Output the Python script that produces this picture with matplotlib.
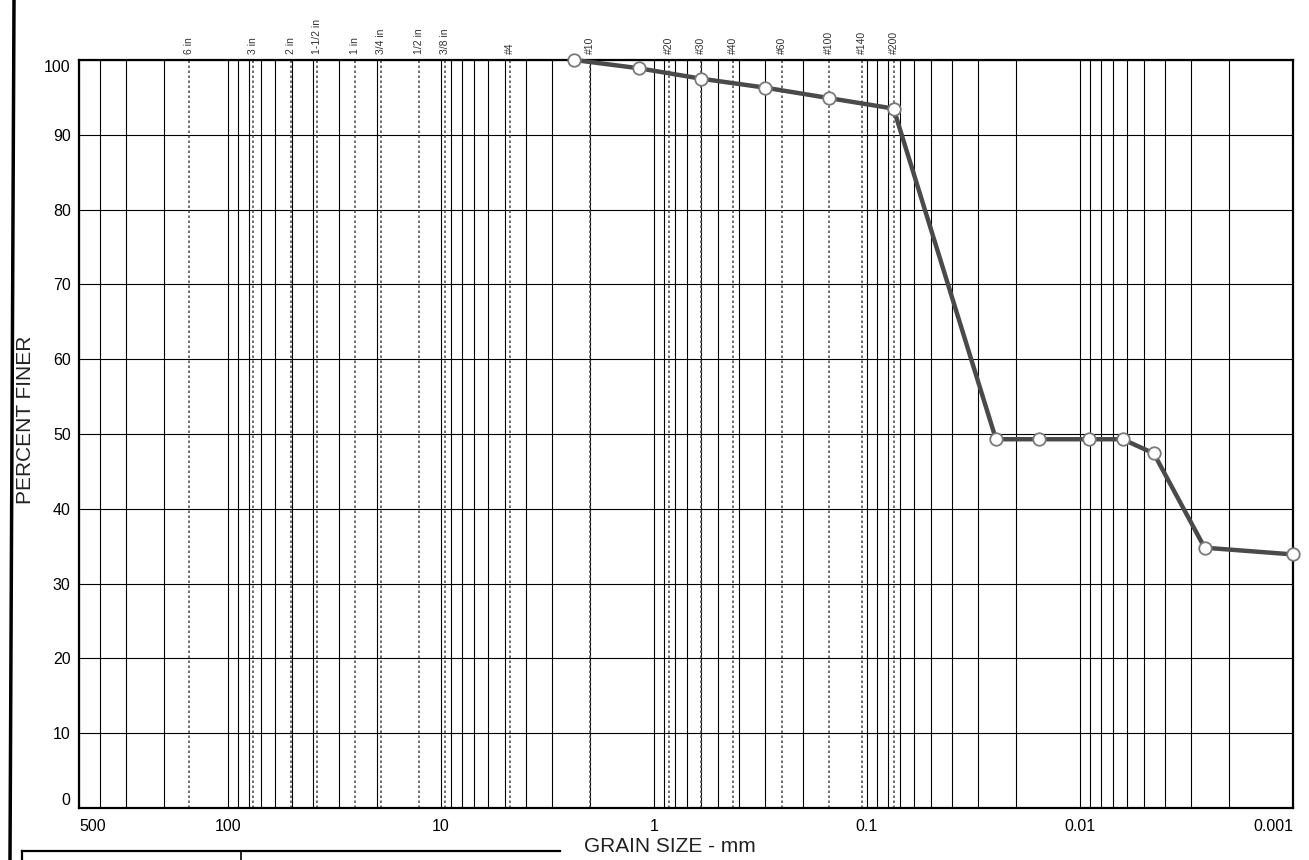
import numpy as np
import matplotlib.pyplot as plt
from matplotlib.lines import Line2D
from matplotlib.ticker import LogLocator, NullFormatter

plt.rcParams['font.family'] = ['Liberation Sans', 'DejaVu Sans']

# sieve analysis: opening (mm) and percent finer
sieve_mm = [2.36, 1.18, 0.6, 0.3, 0.15, 0.075]
sieve_pct = [100.0, 98.9, 97.5, 96.3, 94.9, 93.5]

# hydrometer analysis: particle diameter (mm) and percent finer
hydro_mm = [0.0248, 0.0156, 0.0091, 0.0063, 0.0045, 0.0026, 0.001]
hydro_pct = [49.3, 49.3, 49.3, 49.3, 47.4, 34.8, 33.9]

# US standard sieves marked across the top of the chart
sieve_names = ['6 in', '3 in', '2 in', '1-1/2 in', '1 in', '3/4 in', '1/2 in', '3/8 in',
               '#4', '#10', '#20', '#30', '#40', '#60', '#100', '#140', '#200']
sieve_open = [152.4, 76.2, 50.8, 38.1, 25.4, 19.05, 12.7, 9.525,
              4.75, 2.0, 0.85, 0.6, 0.425, 0.25, 0.15, 0.106, 0.075]

x_ticks = [500, 100, 10, 1, 0.1, 0.01, 0.001]
x_ticklabels = ['500', '100', '10', '1', '0.1', '0.01', '0.001']
y_ticks = list(range(0, 101, 10))

W, H = 1309, 860
fig = plt.figure(figsize=(W / 100, H / 100), dpi=100)
fig.patch.set_facecolor('white')

# axes box in pixels: left, right, top, bottom
L, R, T, B = 79, 1293, 60, 808
ax = fig.add_axes([L / W, 1 - B / H, (R - L) / W, (B - T) / H])

ax.set_xscale('log')
ax.set_xlim(500, 0.001)
ax.set_ylim(0, 100)

ax.set_xticks(x_ticks)
ax.set_xticklabels(x_ticklabels, fontsize=11.5)
ax.xaxis.set_minor_locator(LogLocator(base=10, subs=np.arange(2, 10)))
ax.xaxis.set_minor_formatter(NullFormatter())
ax.set_yticks(y_ticks)
ax.set_yticklabels([str(v) for v in y_ticks], fontsize=11.5)
ax.tick_params(which='both', length=0)
ax.tick_params(axis='x', pad=8)
ax.tick_params(axis='y', pad=6)

# end labels sit inside the ends of the axes
xl = ax.get_xticklabels()
xl[0].set_ha('left')
xl[-1].set_ha('right')
yl = ax.get_yticklabels()
yl[0].set_va('bottom')
yl[-1].set_va('top')

ax.grid(which='both', axis='x', color='black', lw=0.8)
ax.grid(which='major', axis='y', color='black', lw=0.8)
ax.set_axisbelow(True)

for sp in ax.spines.values():
    sp.set_linewidth(1.6)

# sieve size lines and names
for name, d in zip(sieve_names, sieve_open):
    ax.axvline(d, color='#555555', lw=1.2, ls=(0, (1.5, 1.5)), zorder=2)
    ax.text(d, 1.008, name, transform=ax.get_xaxis_transform(), rotation=90,
            ha='center', va='bottom', fontsize=7.5, color='#333333')

# gradation curve
xs = sieve_mm + hydro_mm
ys = sieve_pct + hydro_pct
ax.plot(xs, ys, color='#4a4a4a', lw=3.2, marker='o', ms=9, mfc='white',
        mec='#7a7a7a', mew=1.3, clip_on=False, zorder=5)

fig.text(26 / W, 1 - 420 / H, 'PERCENT FINER', rotation=90, ha='center', va='center',
         fontsize=15, color='#222222')
fig.text(670 / W, 1 - 846 / H, 'GRAIN SIZE - mm', ha='center', va='center',
         fontsize=15, color='#222222')

# form border and table edge below the chart
def fig_line(x0, y0, x1, y1, lw):
    fig.add_artist(Line2D([x0 / W, x1 / W], [1 - y0 / H, 1 - y1 / H],
                          transform=fig.transFigure, color='black', lw=lw))

fig_line(14, 0, 10, 860, 2.5)
fig_line(22, 851, 560, 851, 1.6)
fig_line(22, 851, 22, 860, 1.6)
fig_line(241, 851, 241, 860, 1.2)

fig.savefig('out.png', dpi=100)
